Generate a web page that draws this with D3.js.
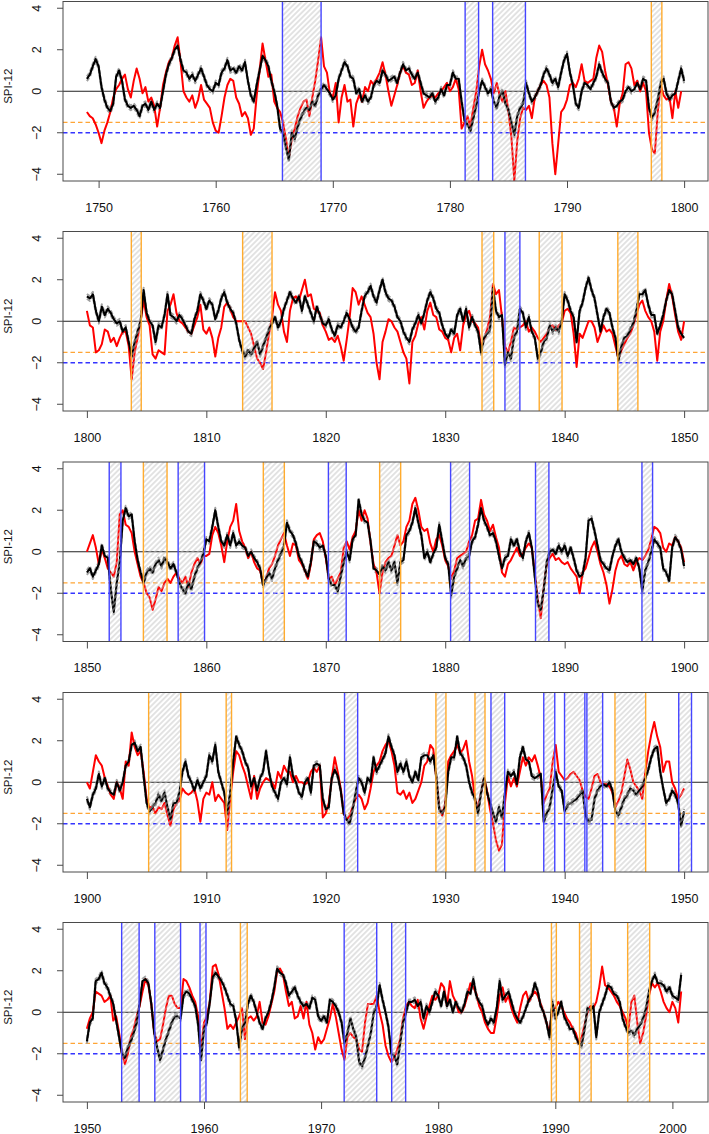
<!DOCTYPE html>
<html><head><meta charset="utf-8">
<script src="https://cdn.jsdelivr.net/npm/d3@7"></script>
<style>body{margin:0;background:#fff}svg{display:block}text{font-family:"Liberation Sans",Arial,sans-serif;fill:#111}</style>
</head><body>
<svg id="chart" width="709" height="1134"></svg>
<script>
// ---------------- data (quarterly SPI-12 values) ----------------
const yTicks = [-4, -2, 0, 2, 4];
const thresholds = { severe: -1.5, extreme: -2 };
const stepYears = 0.25;

const p1Start = 1749, p1End = 1800;
const p1Ticks = [1750, 1760, 1770, 1780, 1790, 1800];
const p1Black = [0.6,0.8,1.2,1.55, 1.2,0.2,-0.4,-0.8, -0.95,-0.6,0.7,1.0, 0.5,-0.4,-0.7,-0.8, -0.7,-0.9,-1.2,-0.7, -0.6,-0.9,-0.5,-0.9, -0.6,-0.8,0.0,0.8, 1.3,1.6,2.0,2.2, 1.5,1.0,0.9,0.6, 0.8,0.5,0.8,1.1, 0.7,0.3,0.1,0.0, 0.4,0.3,0.9,1.1, 1.5,1.0,1.1,0.9, 1.2,1.0,1.4,0.5, -0.2,-0.5,0.3,1.0, 1.7,1.5,1.2,0.5, 0.0,-0.7,-1.8,-2.0, -2.7,-3.3,-2.0,-2.3, -1.7,-1.3,-1.0,-0.8, -0.9,-0.5,-0.7,-0.2, 0.1,0.3,0.1,-0.1, -0.4,-0.2,0.6,1.0, 1.4,1.2,0.7,0.6, -0.1,0.1,-0.5,-0.2, -0.5,-0.3,0.3,0.5, 0.4,1.0,0.8,0.5, 0.6,0.7,0.4,0.9, 1.3,1.0,1.1,0.8, 0.6,0.9,0.4,-0.1, -0.2,-0.3,-0.1,-0.5, -0.3,0.1,-0.2,0.3, 0.3,0.9,0.6,0.6, -0.5,-1.4,-1.6,-1.9, -1.3,-0.7,0.0,0.5, 0.2,-0.1,0.1,-0.5, -0.8,-0.2,0.0,-0.6, -0.9,-1.5,-2.1,-1.2, -0.8,-0.6,0.4,-0.1, -0.5,-0.3,0.0,0.3, 0.8,1.1,0.8,0.4, 0.6,0.2,0.9,1.5, 1.8,0.9,0.3,-0.6, -0.8,0.0,0.4,0.3, 0.1,0.4,0.7,1.3, 0.9,0.6,0.4,-0.5, -0.8,-0.7,-0.5,-0.4, 0.0,0.2,0.0,0.1, 0.4,0.1,0.6,0.5, -0.8,-1.3,-1.0,-0.4, 0.4,0.6,-0.1,-0.4, -0.2,-0.1,0.5,1.1, 0.5];
const p1Red = [-1.0,-1.2,-1.3,-1.6, -2.0,-2.5,-1.9,-1.5, -1.0,-0.3,0.1,0.3, 0.6,0.8,0.1,-0.3, 0.5,1.1,0.6,-0.1, 0.2,-0.5,-0.3,-0.7, -1.7,-0.8,0.3,0.9, 1.4,1.6,2.2,2.6, 1.4,0.0,-0.3,-0.5, -0.2,-0.8,-0.4,0.3, -0.4,-0.6,-0.8,-1.5, -1.9,-2.0,-1.2,-0.3, 0.3,0.6,0.5,-0.3, -0.6,-1.2,-1.0,-1.3, -2.1,-1.8,-0.2,1.0, 2.3,1.5,0.7,0.8, -0.5,-0.8,-1.0,-1.5, -2.3,-3.2,-2.3,-1.8, -1.2,-0.8,-0.5,-0.4, -1.2,-0.3,0.5,1.5, 2.6,1.2,0.9,-0.1, -0.3,0.4,-1.5,-0.3, 0.3,-0.5,-0.4,-1.7, -0.6,-0.2,-0.5,0.2, 0.0,0.5,0.3,0.6, 0.9,1.4,0.8,0.0, -0.7,-0.2,0.3,0.9, 1.2,0.9,0.8,0.3, 0.4,1.0,0.0,-0.8, -0.5,-0.3,-0.2,-0.3, -0.1,0.0,0.2,0.4, 0.0,0.2,0.6,0.1, -1.8,-1.5,-1.2,-1.7, -0.8,0.0,1.2,2.0, 1.3,1.0,0.6,-0.1, 0.4,-0.2,-0.5,0.0, -1.0,-2.2,-4.3,-2.4, -1.3,-0.8,-0.9,-0.7, -1.3,-0.3,0.0,0.3, 0.5,0.3,-0.3,-2.5, -4.0,-2.5,-1.0,-0.8, -0.4,0.3,0.4,0.2, 0.6,1.3,0.5,0.4, 0.5,0.6,1.6,2.2, 1.9,1.0,0.3,-0.5, -0.8,-1.7,-0.6,-0.1, 1.3,1.4,1.1,0.3, 0.5,0.0,0.4,0.0, -2.0,-2.8,-3.0,-1.0, 0.3,-0.2,-0.4,-0.3, -1.3,0.0,-0.8,0.0];
const p1Periods = [[1765.7,1769.0,"extreme"],[1781.3,1782.45,"extreme"],[1783.65,1786.45,"extreme"],[1797.2,1798.1,"severe"]];

const p2Start = 1800, p2End = 1850;
const p2Ticks = [1800, 1810, 1820, 1830, 1840, 1850];
const p2Black = [1.2,1.1,1.3,0.5, 0.0,0.7,0.3,0.6, 0.4,0.1,-0.1,0.0, -0.5,-0.3,-1.0,-1.7, -1.0,-0.5,0.0,1.5, 0.4,0.0,-0.2,-1.0, -0.2,-0.3,0.3,1.3, 0.3,0.2,0.0,0.3, 0.1,-0.2,-0.5,-0.6, 0.1,0.5,1.3,1.0, 0.6,1.0,0.8,0.1, 0.5,1.1,1.4,0.9, 0.6,0.4,-0.1,-0.9, -1.4,-1.7,-1.4,-1.6, -1.3,-1.0,-1.6,-1.2, -0.8,-0.4,-0.1,0.2, -0.3,0.0,0.6,1.0, 1.4,1.1,0.9,1.2, 0.5,1.2,0.8,0.4, 0.0,0.7,0.3,-0.1, -0.2,0.1,-0.4,-0.7, -0.2,-0.3,0.0,0.4, 0.1,-0.3,-0.5,-0.3, 0.5,1.2,1.4,1.7, 1.2,0.9,1.5,2.0, 1.4,1.1,1.0,0.7, 0.2,0.0,-0.5,-0.8, -1.0,-0.4,-0.1,0.3, -0.1,0.4,1.0,1.4, 1.1,0.6,0.4,-0.2, -0.6,-0.8,-0.4,-0.6, 0.3,0.6,0.0,0.6, -0.3,0.2,-0.2,-0.5, -1.5,-0.8,-0.6,-0.4, 1.6,0.5,0.2,0.3, -2.1,-1.5,-1.8,-0.8, -0.5,0.6,0.4,-0.3, 0.2,-0.5,-0.8,-1.8, -1.5,-1.0,-0.8,-0.2, -0.5,-0.3,-0.5,0.0, 1.3,1.0,0.5,0.2, -1.0,0.5,0.9,1.6, 2.1,1.5,1.1,0.3, -0.5,0.2,0.6,0.4, -0.3,-0.8,-1.9,-1.2, -0.8,-0.7,-0.4,-0.1, 0.5,1.3,1.3,1.5, 0.8,0.3,0.3,-0.6, -0.2,0.3,1.0,1.5, 1.3,0.5,-0.3,-0.6, -0.8];
const p2Red = [0.5,-0.2,-0.3,-1.5, -1.4,-1.1,-0.4,-0.5, -1.0,-0.8,-1.2,-0.8, -0.5,-0.5,-1.2,-2.8, -1.5,-0.8,0.0,1.0, 0.2,-0.2,-1.6,-1.8, -1.4,-1.5,-1.6,0.5, 0.8,1.3,0.4,0.0, -0.1,-0.3,-0.5,-0.6, -0.2,0.2,0.8,-0.4, -0.6,-0.3,-0.8,-1.7, -0.8,-0.3,0.7,0.9, 0.6,0.2,0.0,0.0, 0.0,0.0,-0.3,-0.6, -1.2,-1.8,-2.0,-2.3, -1.5,-0.6,0.2,1.4, 0.8,0.5,-0.5,-1.0, 0.5,1.1,1.2,1.0, 1.5,2.0,1.2,1.3, 0.6,0.5,0.4,-0.2, -0.5,-0.9,-0.8,-1.0, -0.7,-1.2,-1.9,-0.9, 0.2,1.6,1.4,0.8, 1.2,0.8,0.4,0.2, -0.6,-2.0,-2.8,-1.0, -0.5,0.1,0.0,-0.3, -0.5,-1.0,-1.5,-1.8, -3.0,-1.0,-0.7,-0.1, 0.2,-0.4,0.5,0.9, 0.3,0.2,-0.4,-0.5, -0.8,-0.9,-1.5,-0.8, -0.6,-1.4,-0.2,0.3, 0.5,0.0,-0.1,-0.3, -1.2,-0.9,-0.4,0.2, 1.8,1.3,1.5,0.2, -1.2,-1.5,-1.0,-0.3, -0.4,-0.3,-0.2,0.0, -0.5,-0.3,-0.5,-0.8, -1.0,-0.8,-0.6,-0.3, -0.2,-0.4,-0.2,-0.1, 0.5,0.6,0.4,-0.6, -2.2,-0.6,-0.8,-0.4, 0.0,0.0,-0.3,-1.0, -0.6,-0.2,-0.5,-0.4, -0.6,-1.2,-1.8,-1.4, -1.1,-0.8,-0.6,-0.2, 0.3,0.8,1.0,0.5, 0.2,0.0,-0.5,-1.9, -0.5,0.0,1.0,1.8, 1.2,0.3,-0.5,-0.9, 0.0];
const p2Periods = [[1803.72,1804.55,"severe"],[1813.04,1815.5,"severe"],[1833.08,1834.06,"severe"],[1835.0,1836.25,"extreme"],[1837.87,1839.78,"severe"],[1844.45,1846.13,"severe"]];

const p3Start = 1850, p3End = 1900;
const p3Ticks = [1850, 1860, 1870, 1880, 1890, 1900];
const p3Black = [-1.0,-0.8,-1.2,-0.9, -0.6,0.3,-0.2,-0.3, -1.8,-2.9,-1.5,-0.5, 1.5,2.1,1.7,1.8, 0.5,-0.4,-1.0,-1.5, -1.0,-0.8,-1.0,-0.6, -0.4,-0.7,-0.3,-0.5, -0.8,-0.6,-1.0,-1.5, -1.8,-2.0,-1.5,-1.8, -1.2,-0.8,-0.5,-0.1, 0.6,0.5,1.2,2.0, 1.2,0.5,0.3,0.8, 0.3,0.9,0.3,0.5, 0.3,0.2,-0.2,0.0, -0.3,-0.5,-0.8,-1.6, -1.3,-1.0,-1.3,-0.8, -0.4,-0.1,0.3,1.4, 1.0,0.8,0.4,-0.2, -0.5,-0.9,-1.2,-0.5, 0.5,0.4,0.2,0.3, -0.2,-1.3,-1.6,-1.6, -1.9,-1.2,-0.5,0.0, -0.4,0.6,0.8,2.5, 1.8,1.5,1.4,0.5, -0.8,-0.9,-1.1,-0.7, -0.9,-0.5,-0.9,-0.5, -1.5,-0.5,-0.4,0.8, 1.0,1.4,2.1,1.4, 0.8,-0.3,0.0,-0.5, -0.1,0.2,1.3,0.5, -0.3,-0.6,-2.1,-1.2, -0.8,-0.4,-0.7,-0.3, -0.2,0.5,0.7,1.3, 2.1,1.5,1.2,0.8, 0.9,0.5,-0.2,-0.8, -0.3,-0.2,0.6,0.3, 0.6,0.0,-0.3,0.5, 0.9,0.2,-1.2,-2.5, -2.8,-1.8,-0.5,0.0, 0.1,-0.1,0.3,0.0, 0.3,-0.2,0.2,-0.3, -0.9,-1.2,-1.1,-0.3, 1.5,1.6,1.0,0.3, -0.4,-0.6,-0.8,-0.9, -0.2,0.3,0.6,0.0, -0.3,-0.5,-0.4,-0.6, -0.3,-0.8,-1.9,-0.9, -0.5,0.0,0.6,0.4, 0.2,-0.8,-1.0,-1.4, 0.2,0.7,0.5,0.1, -0.7];
const p3Red = [0.0,0.4,0.8,0.2, -0.6,0.1,-0.3,-0.8, -1.0,-1.2,-0.5,1.8, 2.0,1.3,1.2,0.9, 0.0,-0.6,-1.2,-1.5, -2.0,-2.2,-2.8,-2.3, -1.7,-1.9,-1.5,-1.3, -1.5,-1.2,-1.0,-1.3, -1.5,-1.2,-1.7,-1.0, -0.6,-0.3,-0.6,-0.2, -0.2,-0.1,0.8,1.2, 0.9,0.3,-0.5,0.5, 1.2,1.5,2.3,1.0, 0.5,0.2,-0.3,0.0, -0.5,-0.8,-0.9,-1.5, -1.3,-0.8,-0.6,-0.2, 0.3,0.6,0.9,0.3, -0.2,0.4,0.3,-0.4, -0.6,-0.9,-1.3,-0.6, 0.6,0.8,0.9,0.5, -0.3,-1.3,-1.2,-1.6, -1.3,-1.0,0.2,0.5, 0.1,0.7,1.0,2.0, 1.5,2.0,1.6,0.4, -0.6,-1.0,-2.0,-1.0, -0.5,-0.3,-0.2,0.3, 0.8,0.3,0.5,1.2, 1.5,2.3,2.6,2.0, 1.2,1.0,1.1,0.4, 0.0,0.6,0.8,0.3, -0.4,-0.7,-1.3,-0.9, -0.3,-0.2,-0.1,0.0, 0.5,0.8,1.5,1.6, 2.5,1.8,1.5,1.0, 1.3,0.7,0.2,-1.0, -1.2,-0.6,-0.4,-0.1, 0.2,-0.2,-0.1,0.2, 0.4,0.2,-1.0,-2.3, -3.2,-1.7,-0.6,-0.3, -0.1,-0.4,-0.3,-0.5, -0.6,-0.5,-0.8,-1.0, -1.2,-2.0,-1.0,-0.8, -0.3,0.2,0.5,0.0, -0.6,-1.0,-1.6,-2.5, -1.8,-0.9,-0.4,-0.2, -0.6,-0.7,-0.5,-0.9, -0.5,-0.3,-0.4,-0.2, 0.1,0.6,1.2,1.1, 0.9,0.2,0.0,0.4, 0.3,0.7,0.5,0.2, -0.5];
const p3Periods = [[1851.87,1852.85,"extreme"],[1854.73,1856.71,"severe"],[1857.64,1859.85,"extreme"],[1864.77,1866.53,"severe"],[1870.22,1871.71,"extreme"],[1874.51,1876.27,"severe"],[1880.45,1882.04,"extreme"],[1887.56,1888.68,"extreme"],[1896.47,1897.36,"extreme"]];

const p4Start = 1900, p4End = 1950;
const p4Ticks = [1900, 1910, 1920, 1930, 1940, 1950];
const p4Black = [-0.8,-1.2,-0.6,-0.3, 0.4,-0.2,0.2,-0.3, -0.5,-0.6,0.0,-0.4, 0.0,0.8,1.0,1.8, 1.9,1.5,1.7,0.3, -1.0,-1.4,-1.2,-1.0, -0.6,-0.9,-0.5,-1.2, -1.8,-1.0,-1.0,-0.5, 0.5,1.0,0.3,0.0, -0.4,0.1,-0.3,0.0, 0.3,1.3,1.0,1.8, 0.5,0.0,-0.5,-1.5, -0.5,1.0,2.2,1.8, 1.5,1.0,0.7,-0.2, 0.2,-0.4,0.2,0.5, 1.5,0.5,-0.2,-0.5, -0.8,0.0,0.2,-0.1, 1.2,0.3,0.0,-0.5, -0.7,0.0,0.2,-0.5, 0.8,0.9,0.8,-0.8, -1.3,-1.2,0.2,0.6, 0.3,-0.4,-1.5,-1.8, -2.0,-1.3,-0.5,0.2, 0.0,-0.5,0.2,0.0, 1.2,0.5,0.8,1.1, 1.4,2.2,1.7,1.3, 0.5,0.9,0.5,1.0, 0.3,0.0,0.5,0.1, 1.2,1.3,1.3,1.0, 1.3,0.3,-1.3,-1.5, -1.2,0.5,1.2,1.2, 2.2,1.4,1.2,0.8, 0.0,-0.5,-0.8,-1.5, -0.5,0.2,-0.5,-1.0, -1.5,-1.9,-1.2,-1.7, -0.5,0.5,0.3,0.5, -0.1,1.2,1.7,1.1, 1.0,0.3,0.2,0.3, 0.4,-1.9,-1.5,-1.2, -0.3,0.5,-0.2,-0.4, -1.4,-1.1,-1.0,-0.9, -0.8,-0.6,-0.4,-1.6, -1.9,-1.8,-0.8,-0.4, -0.2,-0.1,-0.2,0.0, -0.4,-1.4,-1.6,-1.2, -0.8,-0.6,-0.3,-0.4, -0.6,-0.4,-0.2,0.2, 0.6,1.2,1.6,1.7, 0.5,-0.3,-1.0,-0.8, -0.4,-0.6,-1.0,-2.1, -1.4];
const p4Red = [0.0,-0.3,0.5,1.3, 1.0,0.8,0.2,-0.2, -0.6,-0.8,0.0,-0.3, -0.8,1.0,0.8,2.4, 1.7,1.3,1.5,0.5, -0.8,-1.2,-1.2,-1.5, -1.2,-1.3,-1.0,-1.6, -2.1,-1.3,-1.0,-0.9, -0.3,-0.5,-0.6,-0.5, -0.3,-0.9,-1.9,-0.8, -0.5,-0.6,0.0,-0.9, -0.6,-0.8,-1.0,-2.3, -0.8,0.5,1.5,1.3, 0.8,0.4,-0.2,-0.8, 0.3,-0.8,-0.3,0.0, 0.2,0.1,0.0,-0.3, 0.5,0.2,0.8,0.5, 0.5,0.0,0.3,0.0, 0.0,-0.1,0.0,0.5, 0.7,0.5,0.8,-1.7, -1.5,-1.0,0.2,1.2, 0.5,-0.3,-1.5,-1.8, -1.6,-1.2,-0.8,-0.6, -0.8,-1.3,-1.0,-0.3, 0.5,0.8,1.0,1.5, 1.8,2.0,1.5,0.8, -0.5,-0.6,-0.4,-0.8, -0.5,-1.0,-0.8,-0.4, 0.0,0.8,1.0,1.8, 1.6,0.2,-1.2,-1.6, -1.0,1.0,1.3,1.5, 1.8,1.4,1.6,2.0, 1.0,0.3,-0.8,-1.2, -0.5,0.2,-0.4,-1.3, -2.0,-2.8,-3.3,-3.0, -1.0,0.3,-0.2,0.2, -0.2,0.5,1.2,0.8, 1.2,1.0,1.3,0.8, 0.2,-1.0,-0.6,-0.3, 1.0,1.8,0.5,0.3, 0.1,0.2,0.4,0.5, 0.3,0.1,-0.4,-0.7, -0.8,-0.3,0.3,0.4, 0.0,-0.1,-0.1,-0.2, -0.5,-1.2,-0.9,-0.5, 0.3,1.1,0.6,0.0, -0.2,-0.4,-0.8,0.5, 1.5,2.3,2.9,2.2, 1.7,0.5,1.0,1.0, 0.0,-0.3,-0.8,-0.6, -0.3];
const p4Periods = [[1905.17,1907.86,"severe"],[1911.66,1912.11,"severe"],[1921.57,1922.67,"extreme"],[1929.22,1930.06,"severe"],[1932.49,1933.33,"severe"],[1933.83,1934.98,"extreme"],[1938.25,1939.17,"extreme"],[1939.99,1941.69,"extreme"],[1941.86,1943.18,"extreme"],[1944.21,1946.78,"severe"],[1949.55,1950.62,"extreme"]];

const p5Start = 1950, p5End = 2001;
const p5Ticks = [1950, 1960, 1970, 1980, 1990, 2000];
const p5Black = [-1.4,-0.5,-0.3,1.5, 1.6,1.9,1.4,1.2, 0.8,0.4,-0.4,-1.2, -2.0,-2.2,-1.7,-1.4, -1.0,-0.5,0.4,1.5, 1.6,1.4,0.4,-1.0, -1.7,-2.3,-1.8,-1.3, -0.9,-0.5,-0.2,-0.2, -0.3,0.8,1.0,0.9, 0.6,0.3,-0.6,-2.3, -0.8,-0.5,0.5,1.7, 1.9,1.7,1.5,1.2, 0.8,0.4,0.3,-0.4, -1.7,-0.8,-0.5,0.4, 0.8,0.5,0.0,-0.5, -0.8,-0.3,0.0,0.5, 1.2,2.1,1.9,1.8, 1.4,0.8,1.0,1.2, 0.8,0.5,0.3,0.4, 0.2,0.7,0.6,-0.2, -0.4,-0.2,-0.5,0.6, 0.5,0.3,0.0,-0.5, -1.5,-1.0,-0.3,-0.8, -1.2,-2.4,-2.6,-2.2, -1.6,-1.0,0.0,0.3, 1.3,0.6,0.0,-0.7, -2.0,-2.1,-2.5,-1.5, -0.5,0.0,0.5,0.5, 0.6,0.3,0.5,-0.3, 0.3,0.0,0.5,1.0, 0.8,0.3,1.0,0.3, 0.6,0.0,0.5,0.2, 0.0,0.4,1.0,0.9, 1.6,0.8,0.5,0.3, -0.3,-0.6,-0.3,-0.5, 0.2,1.5,0.6,0.8, 1.0,0.5,0.0,-0.3, -0.5,-0.2,0.2,0.6, 0.8,1.4,1.0,0.3, 0.0,-0.5,-1.2,0.5, -0.3,0.0,0.5,-0.2, -0.5,-0.8,-0.8,-1.2, -1.5,-1.6,-0.8,0.2, 0.1,0.3,-1.2,0.0, 0.4,0.8,1.3,1.2, 0.9,0.8,0.5,-0.3, -0.7,-1.0,-0.9,-1.1, -0.8,-0.6,-0.3,0.2, 1.0,1.5,1.8,1.4, 1.4,1.3,1.0,1.2, 0.8,0.7,0.6,1.8];
const p5Red = [-0.8,-0.3,0.0,1.0, 0.9,0.8,0.5,0.6, 0.8,-0.4,-0.2,-1.0, -2.0,-2.5,-2.0,-1.2, -0.8,-0.2,0.3,1.0, 1.6,1.3,0.4,-1.0, -1.4,-1.3,-0.6,0.2, 0.8,0.8,0.4,0.2, 0.2,1.6,1.5,1.2, 0.8,0.5,-0.2,-1.8, -0.5,-0.2,0.5,2.2, 2.3,1.8,1.0,0.2, -0.8,-0.6,-0.8,-0.5, -0.2,0.2,-1.3,-0.3, -0.2,-0.4,-0.2,0.5, -0.5,-0.6,-0.2,0.4, 1.0,2.0,2.1,1.8, 1.0,0.3,0.5,-0.3, -0.2,0.3,-0.3,0.5, -0.6,-1.0,-1.8,-1.2, -1.5,-1.3,-0.8,-0.3, 0.4,-0.2,-1.0,-1.8, -2.3,-1.2,-1.0,-1.2, -1.3,-1.8,-1.9,-0.5, 0.4,0.4,0.4,0.8, 0.0,-0.6,-1.6,-2.1, -2.4,-2.2,-1.8,-1.3, -0.3,0.3,0.5,0.3, 0.2,0.6,-0.3,-0.8, -0.2,0.3,0.8,0.6, 0.8,1.4,1.2,0.3, 1.5,0.8,0.5,0.0, 0.0,0.3,0.8,1.4, 1.2,0.9,0.3,0.0, -0.5,-0.8,-1.0,-1.0, -0.2,0.8,1.2,0.5, 0.8,0.2,-0.2,-0.5, 0.2,0.8,1.0,0.5, 0.8,1.0,0.8,0.4, 0.0,-0.5,-1.0,0.2, 0.2,0.5,0.3,0.0, -0.3,-0.5,-0.8,-1.0, -1.5,-1.2,-0.6,0.0, 0.3,0.2,0.5,1.2, 2.2,1.3,1.2,1.0, 0.8,0.5,0.3,0.0, -0.3,-0.8,0.5,0.8, -0.5,-1.5,-1.0,-0.2, 0.8,1.4,1.2,1.4, 1.0,0.5,0.2,0.0, 0.5,0.2,-0.5,1.0];
const p5Periods = [[1952.97,1954.46,"extreme"],[1955.8,1958.0,"extreme"],[1959.66,1960.17,"extreme"],[1963.11,1963.69,"severe"],[1971.97,1974.75,"extreme"],[1976.03,1977.22,"extreme"],[1989.67,1990.09,"severe"],[1992.07,1993.06,"severe"],[1996.18,1998.06,"severe"]];

const panels = [
  {start:p1Start, end:p1End, ticks:p1Ticks, black:p1Black, red:p1Red, periods:p1Periods},
  {start:p2Start, end:p2End, ticks:p2Ticks, black:p2Black, red:p2Red, periods:p2Periods},
  {start:p3Start, end:p3End, ticks:p3Ticks, black:p3Black, red:p3Red, periods:p3Periods},
  {start:p4Start, end:p4End, ticks:p4Ticks, black:p4Black, red:p4Red, periods:p4Periods},
  {start:p5Start, end:p5End, ticks:p5Ticks, black:p5Black, red:p5Red, periods:p5Periods}
];

// ---------------- drawing ----------------
const svg = d3.select("#chart");
const X0 = 63, X1 = 708, H = 179.5;
const tops = [1.5, 231.5, 462, 692.5, 922.5];
const periodColor = {extreme:"#4545ff", severe:"#ffab2e"};
const defs = svg.append("defs");
const HS = 3.8;
const pat = defs.append("pattern").attr("id","hatch").attr("patternUnits","userSpaceOnUse")
  .attr("width",HS).attr("height",HS).attr("patternTransform","rotate(45)");
pat.append("line").attr("x1",HS/2).attr("y1",0).attr("x2",HS/2).attr("y2",HS)
  .attr("stroke","#c2c2c2").attr("stroke-width",0.9);

panels.forEach((p, i) => {
  const top = tops[i], bottom = top + H;
  const span = p.end - p.start;
  const x = d3.scaleLinear().domain([p.start - 0.04*span, p.end + 0.04*span]).range([X0, X1]);
  const y = d3.scaleLinear().domain([-4.325, 4.325]).range([bottom, top]);
  const clipId = "clip" + i;
  defs.append("clipPath").attr("id", clipId).append("rect")
    .attr("x", X0).attr("y", top).attr("width", X1 - X0).attr("height", H);
  const g = svg.append("g");
  const plot = g.append("g").attr("clip-path", `url(#${clipId})`);

  plot.append("line").attr("x1",X0).attr("x2",X1).attr("y1",y(0)).attr("y2",y(0))
    .attr("stroke","#222").attr("stroke-width",1);
  plot.append("line").attr("x1",X0).attr("x2",X1).attr("y1",y(thresholds.severe)).attr("y2",y(thresholds.severe))
    .attr("stroke","#ffa535").attr("stroke-width",1.2).attr("stroke-dasharray","4.5,3");
  plot.append("line").attr("x1",X0).attr("x2",X1).attr("y1",y(thresholds.extreme)).attr("y2",y(thresholds.extreme))
    .attr("stroke","#3535ff").attr("stroke-width",1.3).attr("stroke-dasharray","4.5,3");

  const line = d3.line().x(d => x(d[0])).y(d => y(d[1]));
  const blackPts = p.black.map((v, k) => [p.start + k*stepYears, v]);
  const redPts = p.red.map((v, k) => [p.start + k*stepYears, v]);

  // grey envelope: dashed grey strokes just above and below the black series
  [-2.4, 2.4].forEach(off => {
    plot.append("path").datum(blackPts).attr("d", line).attr("fill","none")
      .attr("transform", `translate(0,${off})`)
      .attr("stroke","#a0a0a0").attr("stroke-width",2).attr("stroke-dasharray","4,2")
      .attr("stroke-linejoin","round");
  });
  plot.append("path").datum(redPts).attr("d", line).attr("fill","none")
    .attr("stroke","#ff0000").attr("stroke-width",2).attr("stroke-linejoin","round");
  plot.append("path").datum(blackPts).attr("d", line).attr("fill","none")
    .attr("stroke","#000").attr("stroke-width",2.1).attr("stroke-linejoin","round");

  p.periods.forEach(([a, b]) => {
    plot.append("rect").attr("x", x(a)).attr("y", top).attr("width", x(b) - x(a)).attr("height", H)
      .attr("fill","url(#hatch)");
  });
  p.periods.forEach(([a, b, t]) => {
    [a, b].forEach(v => plot.append("line").attr("x1", x(v)).attr("x2", x(v)).attr("y1", top).attr("y2", bottom)
      .attr("stroke", periodColor[t]).attr("stroke-width",1.4));
  });

  g.append("rect").attr("x",X0).attr("y",top).attr("width",X1-X0).attr("height",H)
    .attr("fill","none").attr("stroke","#4a4a4a").attr("stroke-width",1);

  // x axis
  const xa = g.append("g").attr("transform",`translate(0,${bottom})`)
    .call(d3.axisBottom(x).tickValues(p.ticks).tickSize(7).tickFormat(d3.format("d")));
  xa.select(".domain").remove();
  xa.selectAll(".tick line").attr("stroke","#4a4a4a");
  xa.selectAll(".tick text").attr("y",26.5).attr("dy",null).attr("dominant-baseline","central")
    .attr("font-size",12.5).attr("font-family","Liberation Sans, Arial, sans-serif").attr("fill","#111");

  // y axis
  const ya = g.append("g");
  yTicks.forEach(v => {
    ya.append("line").attr("x1",X0-6).attr("x2",X0).attr("y1",y(v)).attr("y2",y(v)).attr("stroke","#4a4a4a");
    ya.append("text").attr("transform",`translate(37,${y(v)}) rotate(-90)`)
      .attr("text-anchor","middle").attr("dominant-baseline","central").attr("font-size",12.5)
      .text(v < 0 ? "\u2212" + Math.abs(v) : String(v));
  });
  g.append("text").attr("transform",`translate(8,${top + H/2 - 5}) rotate(-90)`)
    .attr("text-anchor","middle").attr("dominant-baseline","central").attr("font-size",11.5)
    .text("SPI-12");
});
</script>
</body></html>
